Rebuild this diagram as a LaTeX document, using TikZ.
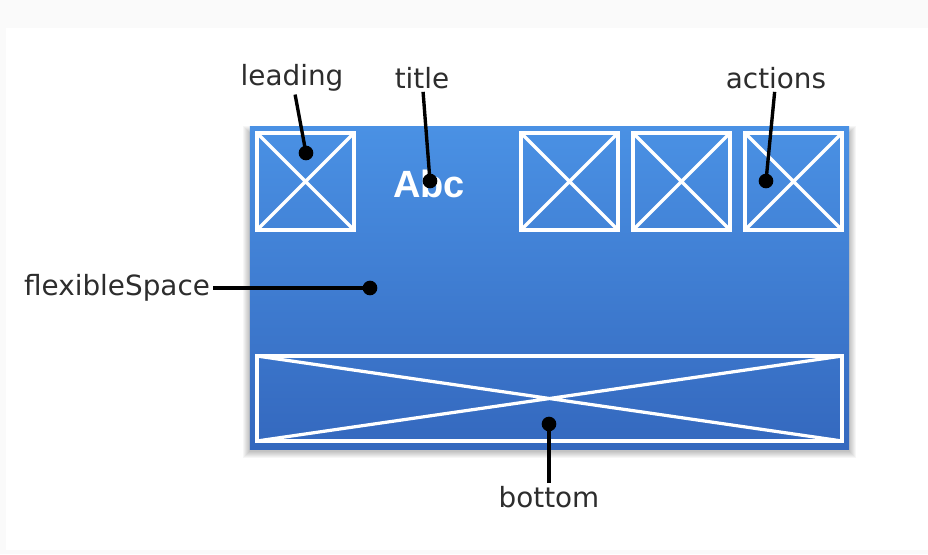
\documentclass[tikz,border=0pt]{standalone}
\usepackage{fontspec}
\setmainfont{DejaVu Sans}
\newfontfamily\abcfont{Liberation Sans}
\definecolor{barblue}{RGB}{74,145,228}
\definecolor{bardark}{RGB}{52,104,190}
\definecolor{labelgray}{RGB}{45,45,45}
\definecolor{pagegray}{RGB}{250,250,250}

\tikzset{
  slot/.style={draw=white, line width=2.6pt, inner sep=0pt,
    path picture={
      \draw[white, line width=2.3pt] (path picture bounding box.north west) -- (path picture bounding box.south east)
        (path picture bounding box.south west) -- (path picture bounding box.north east);
    }},
  tag/.style={text=labelgray, font=\fontsize{19.8}{23}\selectfont, inner sep=2pt},
  pin/.style={line width=2.4pt, black}
}

\begin{document}
\begin{tikzpicture}[x=0.025cm, y=-0.025cm]
        \useasboundingbox (0,0) rectangle (928,554);
        \fill[pagegray] (0,0) rectangle (928,554);
        \fill[white] (6,28) rectangle (928,550);

        % soft shadow under the app bar
        \foreach \s in {1,...,7}
            \fill[black, opacity=0.035] (250-\s,130-\s+3) rectangle (849+\s,449+\s+2);

        % app bar
        \node[top color=barblue, bottom color=bardark, minimum width=14.975cm, minimum height=8.05cm]
              (bar) at (549.5,288) {};
        \node[slot, minimum width=2.425cm, minimum height=2.425cm] (lead) at (305.5,181.5) {};
        \node[slot, minimum width=2.425cm, minimum height=2.425cm] (act1) at (569.5,181.5) {};
        \node[slot, minimum width=2.425cm, minimum height=2.425cm] (act2) at (681.5,181.5) {};
        \node[slot, minimum width=2.425cm, minimum height=2.425cm] (act3) at (793.5,181.5) {};
        \node[slot, minimum width=14.625cm, minimum height=2.125cm] (bot) at (549.5,398.5) {};
        \node[text=white, font=\abcfont\bfseries\fontsize{27}{30}\selectfont] (abc) at (429,184) {Abc};

        % labels
        \node[tag] (leading) at (292,78) {leading};
        \node[tag] (title) at (422,78) {title};
        \node[tag] (actions) at (776,78) {actions};
        \node[tag, anchor=east] (flex) at (213,288) {flexibleSpace};
        \node[tag] (bottom) at (549,497) {bottom};

        \coordinate (pleading) at (306,153);
        \coordinate (ptitle) at (430,181);
        \coordinate (pactions) at (766,181);
        \coordinate (pflex) at (370,288);
        \coordinate (pbottom) at (549,424);

        \draw[pin] (leading) -- (pleading);
        \draw[pin] (title) -- (ptitle);
        \draw[pin] (actions) -- (pactions);
        \draw[pin] (flex) -- (pflex);
        \draw[pin] (bottom) -- (pbottom);
        \foreach \p in {pleading, ptitle, pactions, pflex, pbottom}
            \fill (\p) circle (5.2pt);
    \end{tikzpicture}
\end{document}
